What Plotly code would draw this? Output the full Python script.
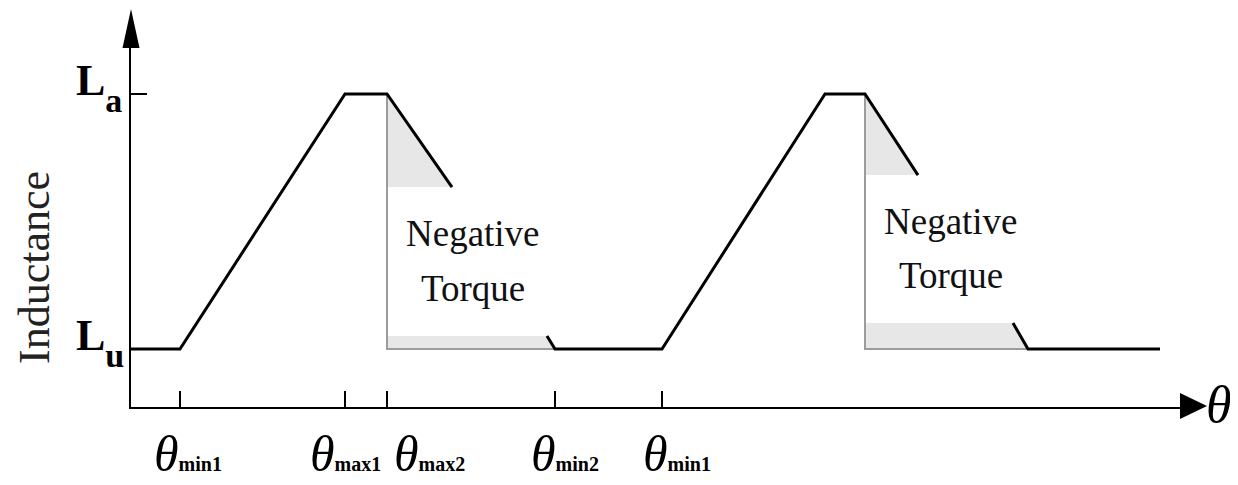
import plotly.graph_objects as go

# ---------------- data ----------------
L_u, L_a = 0.0, 1.0                       # unaligned / aligned inductance (normalised)
theta_ticks = [4.9, 21.4, 25.6, 42.4, 53.1]
theta_tick_subs = ["min1", "max1", "max2", "min2", "min1"]

# inductance profile, three drawn pieces
seg1_x = [0.0, 4.9, 21.4, 25.6, 32.1]
seg1_y = [0.0, 0.0, 1.0, 1.0, 0.635]
seg2_x = [41.6, 42.4, 53.1, 69.4, 73.4, 78.7]
seg2_y = [0.051, 0.0, 0.0, 1.0, 1.0, 0.682]
seg3_x = [88.2, 89.7, 102.9]
seg3_y = [0.102, 0.0, 0.0]

region_text = ["Negative", "Torque"]

# ---------------- layout constants ----------------
OFF = 8                      # default page margin of the html body
W, H = 1238 - OFF, 485 - OFF
# plot area in reference-image pixels
RL, RR, RT, RB = 131, 1185, 45, 407
PL, PR, PT, PB = RL - OFF, RR - OFF, RT - OFF, RB - OFF
x_range = [0, 105.4]
y_range = [-0.2275, 1.192]
FONT = "Liberation Serif"
SHADE = "#e7e7e7"
EDGE = "#9c9c9c"


def pxx(p):
    """reference-image x pixel -> paper"""
    return (p - RL) / (RR - RL)


def pxy(p):
    """reference-image y pixel -> paper"""
    return (RB - p) / (RB - RT)


fig = go.Figure()


def shade_regions(top_x0, top_x1, top_y1, band_x0, band_x1, band_y):
    fig.add_trace(go.Scatter(x=[top_x0, top_x1, top_x0, top_x0],
                             y=[L_a, top_y1, top_y1, L_a],
                             fill="toself", fillcolor=SHADE, mode="none",
                             hoverinfo="skip", showlegend=False))
    fig.add_trace(go.Scatter(x=[top_x0, band_x0, band_x1, top_x0, top_x0],
                             y=[band_y, band_y, L_u, L_u, band_y],
                             fill="toself", fillcolor=SHADE, mode="none",
                             hoverinfo="skip", showlegend=False))
    fig.add_trace(go.Scatter(x=[top_x0, top_x0, band_x1], y=[L_a, L_u, L_u],
                             mode="lines", line=dict(color=EDGE, width=2),
                             hoverinfo="skip", showlegend=False))


shade_regions(seg1_x[3], seg1_x[4], seg1_y[4], seg2_x[0], seg2_x[1], seg2_y[0])
shade_regions(seg2_x[4], seg2_x[5], seg2_y[5], seg3_x[0], seg3_x[1], seg3_y[0])

for sx, sy in [(seg1_x, seg1_y), (seg2_x, seg2_y), (seg3_x, seg3_y)]:
    fig.add_trace(go.Scatter(x=sx, y=sy, mode="lines",
                             line=dict(color="black", width=3),
                             hoverinfo="skip", showlegend=False))

annotations = []
label_dx = [0.8, 0.0, 4.2, 1.0, 1.5]
for tx, dx, sub in zip(theta_ticks, label_dx, theta_tick_subs):
    annotations.append(dict(
        x=tx + dx, xref="x", y=pxy(454), yref="paper",
        text=f"<i>θ</i><b><span style='font-size:20px'>{sub}</span></b>",
        showarrow=False, xanchor="center", yanchor="middle",
        font=dict(family=FONT, size=50, color="black")))

annotations.append(dict(x=pxx(1219), xref="paper", y=pxy(404), yref="paper",
                        text="<i>θ</i>", showarrow=False,
                        xanchor="center", yanchor="middle",
                        font=dict(family=FONT, size=52, color="black")))

for lvl, sub, lx in [(L_a, "a", 99), (L_u, "u", 100)]:
    annotations.append(dict(
        x=pxx(lx), xref="paper", y=lvl, yref="y", yshift=6,
        text=f"<b>L<span style='font-size:34px;baseline-shift:-17px'>{sub}</span></b>",
        showarrow=False, xanchor="center", yanchor="middle",
        font=dict(family=FONT, size=44, color="black")))

annotations.append(dict(x=pxx(34), xref="paper", y=pxy(268), yref="paper",
                        text="Inductance", textangle=-90, showarrow=False,
                        xanchor="center", yanchor="middle",
                        font=dict(family=FONT, size=44, color="#222")))

for cx, ys in [(34.2, (0.451, 0.239)), (82.0, (0.498, 0.29))]:
    for t, yy in zip(region_text, ys):
        annotations.append(dict(x=cx, xref="x", y=yy, yref="y", text=t,
                                showarrow=False, xanchor="center",
                                yanchor="middle",
                                font=dict(family=FONT, size=37, color="#111")))

shapes = [
    dict(type="path", xref="paper", yref="paper",
         path=f"M {pxx(131)} {pxy(9)} L {pxx(122.5)} {pxy(48)} L {pxx(139.5)} {pxy(48)} Z",
         fillcolor="black", line=dict(width=0)),
    dict(type="path", xref="paper", yref="paper",
         path=f"M {pxx(1207)} {pxy(406)} L {pxx(1180)} {pxy(393)} L {pxx(1180)} {pxy(419)} Z",
         fillcolor="black", line=dict(width=0)),
]

fig.update_layout(
    width=W, height=H,
    margin=dict(l=PL, r=W - PR, t=PT, b=H - PB, pad=0),
    paper_bgcolor="white", plot_bgcolor="white",
    showlegend=False,
    annotations=annotations, shapes=shapes,
    xaxis=dict(range=x_range, showgrid=False, zeroline=False,
               showline=True, linecolor="black", linewidth=2,
               tickmode="array", tickvals=theta_ticks, ticktext=[""] * len(theta_ticks),
               ticks="inside", ticklen=16, tickwidth=1.5, tickcolor="black",
               showticklabels=False, fixedrange=True),
    yaxis=dict(range=y_range, showgrid=False, zeroline=False,
               showline=True, linecolor="black", linewidth=2,
               tickmode="array", tickvals=[L_u, L_a],
               ticks="inside", ticklen=16, tickwidth=1.5, tickcolor="black",
               showticklabels=False, fixedrange=True),
)

fig.write_html("out.html")
